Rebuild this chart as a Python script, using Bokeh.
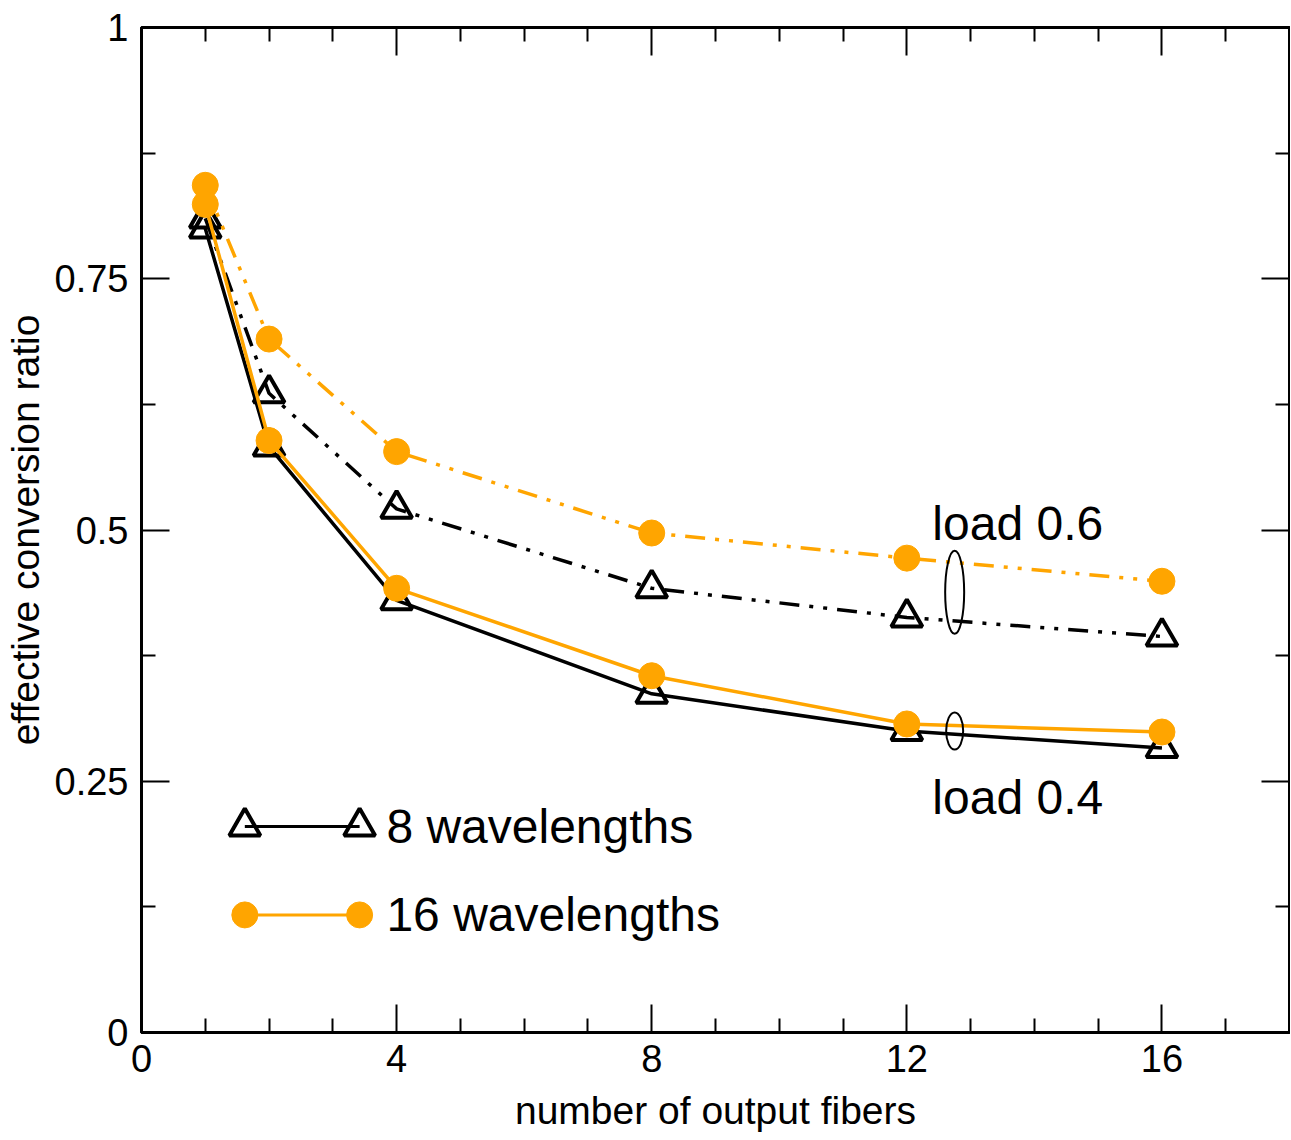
from bokeh.plotting import figure
from bokeh.models import Range1d, LinearAxis, FixedTicker, Label
from bokeh.embed import file_html
from bokeh.resources import INLINE

# ---- data ----
x_fibers = [1, 2, 4, 8, 12, 16]
w8_load04 = [0.800, 0.583, 0.430, 0.337, 0.300, 0.283]
w8_load06 = [0.810, 0.636, 0.521, 0.442, 0.413, 0.394]
w16_load04 = [0.824, 0.589, 0.442, 0.355, 0.307, 0.299]
w16_load06 = [0.843, 0.690, 0.578, 0.497, 0.472, 0.449]

x_major = [0, 4, 8, 12, 16]
x_minor = [1, 2, 3, 5, 6, 7, 9, 10, 11, 13, 14, 15, 17]
y_major = [0, 0.25, 0.5, 0.75, 1]
y_minor = [0.125, 0.375, 0.625, 0.875]
y_labels = {0: "0", 0.25: "0.25", 0.5: "0.5", 0.75: "0.75", 1: "1"}

legend_names = ["8 wavelengths", "16 wavelengths"]
legend_line_x = [1.62, 3.42]
legend_y = [0.205, 0.117]
legend_text_x = 3.84

load_texts = ["load 0.6", "load 0.4"]
load_text_x = 12.4
load_text_y = [0.506, 0.234]
ellipse_x = [12.75, 12.75]
ellipse_y = [0.438, 0.300]
ellipse_h = [83, 37]
ellipse_w = [19, 17]

BLACK = "#000000"
ORANGE = "#FFA500"
FONT = "Liberation Sans"

p = figure(
    x_range=Range1d(0, 18), y_range=Range1d(0, 1),
    frame_width=1148, frame_height=1005,
    min_border_left=134, min_border_top=27, min_border_right=1, min_border_bottom=100,
    output_backend="svg", toolbar_location=None,
    x_axis_label="number of output fibers", y_axis_label="effective conversion ratio",
)
p.background_fill_color = "white"
p.border_fill_color = "white"
p.xgrid.visible = False
p.ygrid.visible = False
p.outline_line_color = BLACK
p.outline_line_width = 3

def style_axis(ax, ticks, minors, show_labels):
    ax.ticker = FixedTicker(ticks=ticks, minor_ticks=minors)
    ax.major_tick_in = 28
    ax.major_tick_out = 0
    ax.minor_tick_in = 14
    ax.minor_tick_out = 0
    ax.major_tick_line_width = 2
    ax.minor_tick_line_width = 2
    ax.major_tick_line_color = BLACK
    ax.minor_tick_line_color = BLACK
    ax.axis_line_width = 3
    ax.axis_line_color = BLACK
    if show_labels:
        ax.major_label_text_font = FONT
        ax.major_label_text_font_size = "38px"
        ax.major_label_text_color = BLACK
        ax.axis_label_text_font = FONT
        ax.axis_label_text_font_size = "39px"
        ax.axis_label_text_font_style = "normal"
        ax.axis_label_text_color = BLACK
    else:
        ax.major_label_overrides = {t: "" for t in ticks}
        ax.major_label_text_font_size = "1px"
        ax.major_label_standoff = 0

xa = p.xaxis[0]
ya = p.yaxis[0]
style_axis(xa, x_major, x_minor, True)
style_axis(ya, y_major, y_minor, True)
xa.major_label_standoff = 12
xa.axis_label_standoff = 14
ya.major_label_standoff = 13
ya.axis_label_standoff = 5
ya.major_label_overrides = y_labels

top_ax = LinearAxis()
style_axis(top_ax, x_major, x_minor, False)
p.add_layout(top_ax, "above")
right_ax = LinearAxis()
style_axis(right_ax, y_major, y_minor, False)
p.add_layout(right_ax, "right")

# ---- series ----
p.line(x_fibers, w8_load06, line_color=BLACK, line_width=3.5, line_dash="20 10 4 10 4 10")
p.scatter(x_fibers, w8_load06, marker="triangle", size=31, fill_color=None,
          line_color=BLACK, line_width=4)
p.line(x_fibers, w8_load04, line_color=BLACK, line_width=3.5)
p.scatter(x_fibers, w8_load04, marker="triangle", size=31, fill_color=None,
          line_color=BLACK, line_width=4)

p.line(x_fibers, w16_load06, line_color=ORANGE, line_width=3.5, line_dash="20 10 4 10 4 10")
p.scatter(x_fibers, w16_load06, marker="circle", size=26, fill_color=ORANGE, line_color=ORANGE)
p.line(x_fibers, w16_load04, line_color=ORANGE, line_width=3.5)
p.scatter(x_fibers, w16_load04, marker="circle", size=26, fill_color=ORANGE, line_color=ORANGE)

# ---- ellipses & load labels ----
p.ellipse(x=ellipse_x, y=ellipse_y, width=ellipse_w, height=ellipse_h,
          width_units="screen", height_units="screen",
          fill_color=None, line_color=BLACK, line_width=2)
for t, ty in zip(load_texts, load_text_y):
    p.add_layout(Label(x=load_text_x, y=ty, text=t, text_font=FONT, text_font_size="48px",
                       text_color=BLACK, text_baseline="middle", text_align="left"))

# ---- manual legend ----
p.line(legend_line_x, [legend_y[0]] * 2, line_color=BLACK, line_width=3)
p.scatter(legend_line_x, [legend_y[0]] * 2, marker="triangle", size=31, fill_color=None,
          line_color=BLACK, line_width=4)
p.line(legend_line_x, [legend_y[1]] * 2, line_color=ORANGE, line_width=3)
p.scatter(legend_line_x, [legend_y[1]] * 2, marker="circle", size=26, fill_color=ORANGE,
          line_color=ORANGE)
for name, ly in zip(legend_names, legend_y):
    p.add_layout(Label(x=legend_text_x, y=ly, text=name, text_font=FONT, text_font_size="48px",
                       text_color=BLACK, text_baseline="middle", text_align="left"))

open("out.html", "w").write(file_html(p, INLINE))
